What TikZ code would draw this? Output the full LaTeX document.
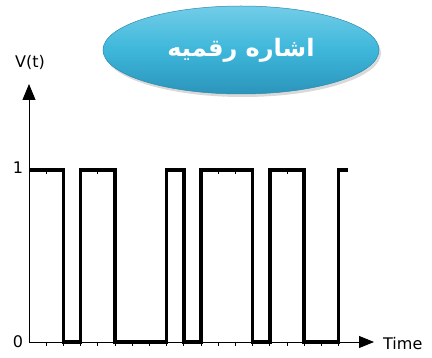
\documentclass[tikz,border=0pt]{standalone}
\usepackage{fontspec}
\setmainfont{DejaVu Sans}
\newfontfamily\arabicfont[Script=Arabic]{DejaVu Sans}
\TeXXeTstate=1
\usepackage{xcolor}
\usepackage{tikz}
\usetikzlibrary{arrows.meta,shapes.geometric,shadows}

\definecolor{pillTop}{HTML}{72CDE8}
\definecolor{pillMid}{HTML}{3DB7DA}
\definecolor{pillBot}{HTML}{2C94BB}
\definecolor{pillEdge}{HTML}{2A8AB0}

\begin{document}
\begin{tikzpicture}[
  x=1pt, y=-1pt,
  pill/.style={ellipse, draw=pillEdge, line width=0.5pt, minimum width=276pt, minimum height=88pt,
    top color=pillTop, bottom color=pillBot, middle color=pillMid,
    drop shadow={opacity=0.3, shadow xshift=2pt, shadow yshift=-3pt}},
  axis/.style={line width=0.9pt},
  wave/.style={line width=3.6pt, line join=miter},
  tick/.style={line width=0.8pt},
  lbl/.style={font=\fontsize{16}{18}\selectfont, inner sep=0pt}
]
\useasboundingbox (0,0) rectangle (432,358);

% title
\node[pill] (title) at (241,50) {};
\node[text=white, inner sep=0pt, font=\arabicfont\bfseries\fontsize{24}{28}\selectfont] (titletext) at (241,50) {\beginR اشاره رقمیه\endR};

% axes
\coordinate (origin) at (29,342);
\coordinate (ytop) at (29,84);
\coordinate (xend) at (374,342);
\draw[axis, -{Triangle[length=16pt, width=13pt]}] (origin) -- (ytop);
\draw[axis, -{Triangle[length=15pt, width=12pt]}] (origin) -- (xend);
\node[lbl] (vlabel) at (30,62) {V(t)};
\node[lbl] (onelabel) at (18,168) {1};
\node[lbl] (zerolabel) at (18,342) {0};
\node[lbl, anchor=west] (timelabel) at (383,344) {Time};

% bit ticks and signal
\begin{scope}[xshift=29pt, x=17.2pt]
  \foreach \k in {1,4,11,12,15}
    \draw[tick] (\k,170) -- (\k,174.5);
  \foreach \k in {1,...,18}
    \draw[tick] (\k,342) -- (\k,346);
  \draw[wave] (0,170) -| (2,342) -| (3,170) -| (5,342) -| (8,170) -| (9,342)
    -| (10,170) -| (13,342) -| (14,170) -| (16,342) -| (18,170) -- (18.55,170);
\end{scope}
\end{tikzpicture}
\end{document}
